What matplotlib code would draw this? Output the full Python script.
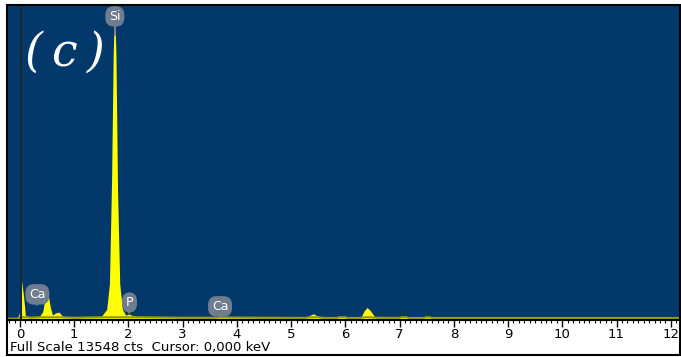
import matplotlib.pyplot as plt
from matplotlib.patches import Rectangle
from matplotlib.ticker import MultipleLocator

# spectrum outline (keV, counts)
energy = [-0.22, -0.05, 0.0, 0.03, 0.07, 0.10, 0.15, 0.20, 0.35, 0.42, 0.47, 0.52,
          0.56, 0.60, 0.66, 0.72, 0.78, 0.85, 1.00, 1.30, 1.50, 1.60, 1.65, 1.69,
          1.72, 1.745, 1.77, 1.80, 1.84, 1.89, 1.95, 2.01, 2.06, 2.20, 3.00, 3.64,
          3.69, 3.75, 5.25, 5.35, 5.41, 5.50, 5.60, 5.85, 5.88, 6.00, 6.03, 6.28,
          6.35, 6.40, 6.46, 6.55, 7.00, 7.03, 7.13, 7.16, 7.45, 7.48, 7.56, 7.59, 12.2]
counts = [0, 0, 300, 1650, 900, 150, 60, 40, 60, 300, 1000, 1050,
          500, 150, 250, 280, 120, 50, 40, 50, 100, 400, 1500, 6000,
          11500, 13450, 11500, 5500, 1500, 400, 150, 200, 150, 60, 40, 40,
          100, 50, 30, 150, 210, 100, 30, 30, 90, 90, 30, 30,
          350, 480, 350, 40, 30, 90, 90, 30, 30, 90, 90, 30, 30]

full_scale = 13548
x_ticks = list(range(0, 13))
peak_labels = ["Si", "Ca", "P", "Ca"]
peak_pos = [(1.75, 13100), (0.32, 1050), (2.02, 700), (3.69, 530)]
stem_end = [12300, 600, 250, 100]

fig = plt.figure(figsize=(6.81, 3.57), dpi=100)
W, H = 681, 357

# outer frame
fig.patches.append(Rectangle((7 / W, 2 / H), 673 / W, 350 / H, transform=fig.transFigure,
                             fill=False, edgecolor='black', linewidth=1.5))

ax = fig.add_axes([8 / W, (H - 320) / H, 672 / W, 314 / H])
ax.set_facecolor('#02386a')
ax.fill_between(energy, counts, 0, color='#ffff00', linewidth=0)
ax.plot(energy, [min(c, 60) for c in counts], color='#9a9a10', linewidth=1.5)
ax.axvline(0.02, color='#1c2733', linewidth=1.5)

ax.set_xlim(-0.22, 12.17)
ax.set_ylim(-60, full_scale)
ax.set_yticks([])
ax.set_xticks(x_ticks)
ax.xaxis.set_minor_locator(MultipleLocator(0.1))
ax.tick_params(axis='x', which='major', direction='out', length=5, width=1,
               labelsize=9.5, pad=1, colors='black')
ax.tick_params(axis='x', which='minor', direction='out', length=2, width=0.8)
for s in ['top', 'left', 'right']:
    ax.spines[s].set_visible(False)
ax.spines['bottom'].set_linewidth(1.5)

# element markers: grey rounded tag with a short stem
for lab, (xp, yp), y_end in zip(peak_labels, peak_pos, stem_end):
    ax.plot([xp, xp], [y_end, yp], color='#6f7d90', linewidth=1.2)
    ax.text(xp, yp, lab, color='white', fontsize=9, ha='center', va='center',
            bbox=dict(boxstyle='round,pad=0.3,rounding_size=0.7',
                      facecolor='#6f7d90', edgecolor='none'))

ax.text(0.025, 0.85, '(\u2009c\u2009)', transform=ax.transAxes, color='white',
        fontsize=33, family='DejaVu Serif', style='italic', ha='left', va='center')

fig.text(10 / W, 1 - 347 / H, 'Full Scale 13548 cts  Cursor: 0,000 keV',
         fontsize=9.5, ha='left', va='center', color='black')

fig.savefig('out.png', dpi=100)
